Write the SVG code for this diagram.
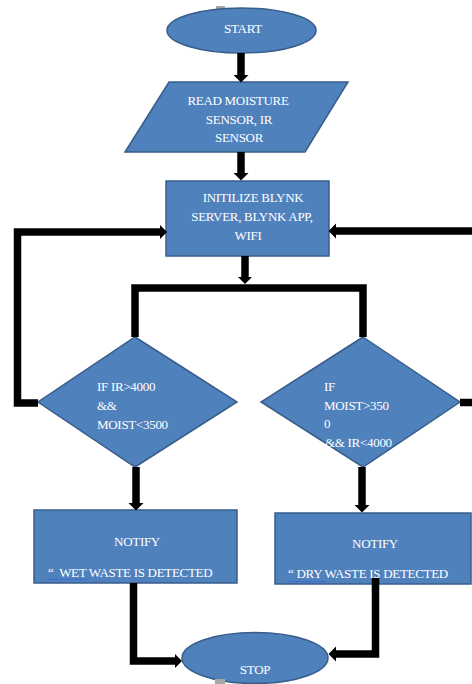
<svg xmlns="http://www.w3.org/2000/svg" width="472" height="684" viewBox="0 0 472 684">
<style>
.n{fill:#4F81BD;stroke:#385D8A;stroke-width:1.5}
.t{font-family:'Liberation Serif','Times New Roman',Times,serif;font-size:13px;fill:#FFFFFF;letter-spacing:-0.3px}
.m{text-anchor:middle}
.c{fill:none;stroke:#000;stroke-width:7.5;stroke-linejoin:miter}
.u{stroke:#3A6FD0;stroke-width:1.2}
</style>
<defs>
<marker id="ah" markerUnits="userSpaceOnUse" markerWidth="9" markerHeight="16" viewBox="0 -8 9 16" refX="0.5" refY="0" orient="auto">
<path d="M0,-7.5 L7.5,0 L0,7.5 z" fill="#000"/>
</marker>
</defs>
<rect x="216" y="6" width="9" height="3" fill="#A6A6A6"/>
<g font-family="Liberation Serif, serif">
<g id="start">
<ellipse class="n" cx="241.5" cy="30.5" rx="74.5" ry="22.5"/>
<text class="t m" x="243" y="33">START</text>
</g>
<g id="read">
<polygon class="n" points="169,82 348,82 305,152 125,152"/>
<text class="t m" x="238" y="105">READ MOISTURE</text>
<text class="t m" x="239" y="124">SENSOR, IR</text>
<text class="t m" x="239" y="142">SENSOR</text>
</g>
<g id="init">
<rect class="n" x="166" y="181" width="163" height="75"/>
<text class="t m" x="253" y="202">INITILIZE BLYNK</text>
<text class="t m" x="252" y="221">SERVER, BLYNK APP,</text>
<text class="t m" x="248" y="240">WIFI</text>
</g>
<g id="dec-wet">
<polygon class="n" points="135,337 237,402 135,467 38,402"/>
<text class="t" x="97" y="391">IF IR&gt;4000</text>
<text class="t" x="97" y="410">&amp;&amp;</text>
<text class="t" x="97" y="429">MOIST&lt;3500</text>
</g>
<g id="dec-dry">
<polygon class="n" points="363,337 460,402 363,467 261,402"/>
<text class="t" x="324" y="391">IF</text>
<text class="t" x="324" y="410">MOIST&gt;350</text>
<text class="t" x="324" y="428">0</text>
<text class="t" x="325" y="447">&amp;&amp; IR&lt;4000</text>
</g>
<g id="notify-wet">
<rect class="n" x="34" y="510" width="203" height="73"/>
<text class="t m" x="137" y="546">NOTIFY</text>
<text class="t" x="48" y="577" xml:space="preserve">“  WET WASTE IS DETECTED</text>
<line class="u" x1="48" y1="579.5" x2="88" y2="579.5"/>
</g>
<g id="notify-dry">
<rect class="n" x="275" y="513" width="196" height="71"/>
<text class="t m" x="375" y="548">NOTIFY</text>
<text class="t" x="288" y="578" xml:space="preserve">“ DRY WASTE IS DETECTED</text>
<line class="u" x1="288" y1="581.5" x2="327" y2="581.5"/>
</g>
<g id="stop">
<ellipse class="n" cx="255" cy="658" rx="73" ry="25.5"/>
<text class="t m" x="255" y="674">STOP</text>
</g>
</g>
<rect x="215" y="679" width="10" height="5" fill="#A6A6A6"/>
<g id="connectors">
<path class="c" d="M241,53 V75.5" marker-end="url(#ah)"/>
<path class="c" d="M241,152 V173.5" marker-end="url(#ah)"/>
<path class="c" d="M245,256 V277" marker-end="url(#ah)"/>
<path class="c" d="M135,337 V288 H363 V337"/>
<path class="c" d="M38,403 H17.5 V232 H160" marker-end="url(#ah)"/>
<path class="c" d="M472,231 H335.5" marker-end="url(#ah)"/>
<path class="c" d="M460,402.5 H472"/>
<path class="c" d="M136,467 V503.5" marker-end="url(#ah)"/>
<path class="c" d="M362,467 V505.5" marker-end="url(#ah)"/>
<path class="c" d="M133.5,583 V661 H175" marker-end="url(#ah)"/>
<path class="c" d="M375.5,578 V654 H335.5" marker-end="url(#ah)"/>
</g>
</svg>
